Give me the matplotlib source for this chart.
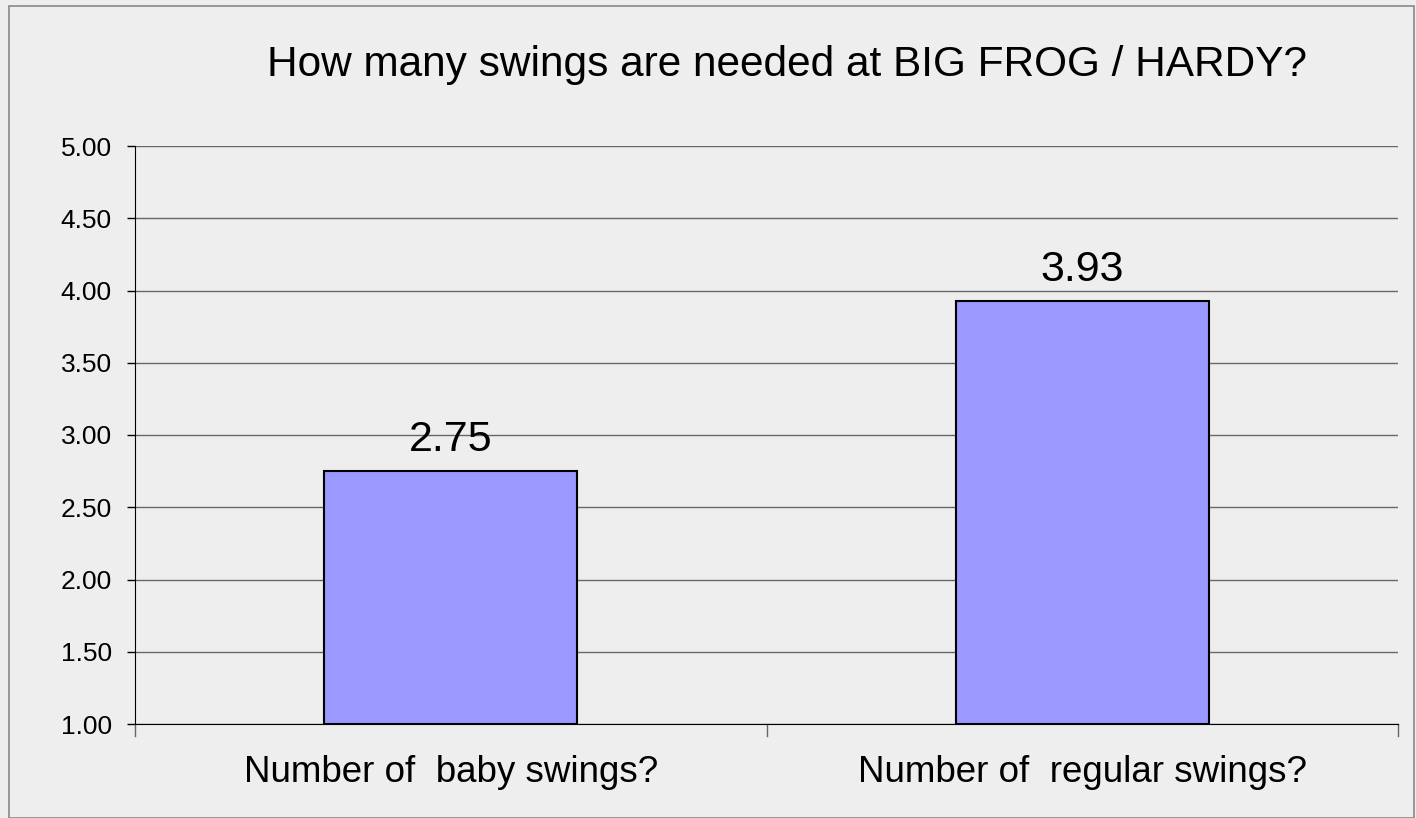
import matplotlib
matplotlib.use("Agg")
import matplotlib.pyplot as plt
from matplotlib.patches import Rectangle

categories = ["Number of  baby swings?", "Number of  regular swings?"]
values = [2.75, 3.93]
yticks = [1.00, 1.50, 2.00, 2.50, 3.00, 3.50, 4.00, 4.50, 5.00]
title = "How many swings are needed at BIG FROG / HARDY?"

W, H = 1416, 818
plt.rcParams['font.family'] = ['Liberation Sans', 'DejaVu Sans']
fig = plt.figure(figsize=(W / 100, H / 100), dpi=100)
fig.patch.set_facecolor('#EEEEEE')
fig.patches.append(Rectangle((9 / W, 0), (W - 11) / W, (H - 6) / H, transform=fig.transFigure,
                             fill=False, edgecolor='#888888', linewidth=1.2))

ax = fig.add_axes([135 / W, 1 - 724 / H, (1398 - 135) / W, (724 - 146) / H])
ax.set_facecolor('#EEEEEE')
x = list(range(len(categories)))
ax.bar(x, [v - 1 for v in values], bottom=1, width=0.4, color='#9999FF', edgecolor='black',
       linewidth=1.5, zorder=3)
for xi, v in zip(x, values):
    ax.annotate(f"{v:.2f}", (xi, v), xytext=(0, 8), textcoords='offset points',
                ha='center', va='bottom', fontsize=31, zorder=4)

ax.set_xlim(-0.5, len(categories) - 0.5)
ax.set_ylim(1, 5)
ax.set_yticks(yticks)
ax.set_yticklabels([f"{t:.2f}" for t in yticks], fontsize=19)
ax.set_xticks(x)
ax.set_xticklabels(categories, fontsize=26.5)
ax.tick_params(axis='x', length=0, pad=22)
ax.tick_params(axis='y', length=5.8, width=1, pad=11, colors='black')
for b in [-0.5, 0.5, 1.5]:
    ax.plot([b, b], [0, -0.02], transform=ax.get_xaxis_transform(), color='#666666',
            linewidth=1, clip_on=False)
ax.yaxis.grid(True, color='#666666', linewidth=1, zorder=0)
ax.spines['top'].set_visible(False)
ax.spines['right'].set_visible(False)
ax.spines['left'].set_color('black')
ax.spines['bottom'].set_color('black')

fig.text(787 / W, 1 - 65 / H, title, ha='center', va='center', fontsize=30.5)

fig.savefig('out.png', dpi=100, facecolor=fig.get_facecolor())
